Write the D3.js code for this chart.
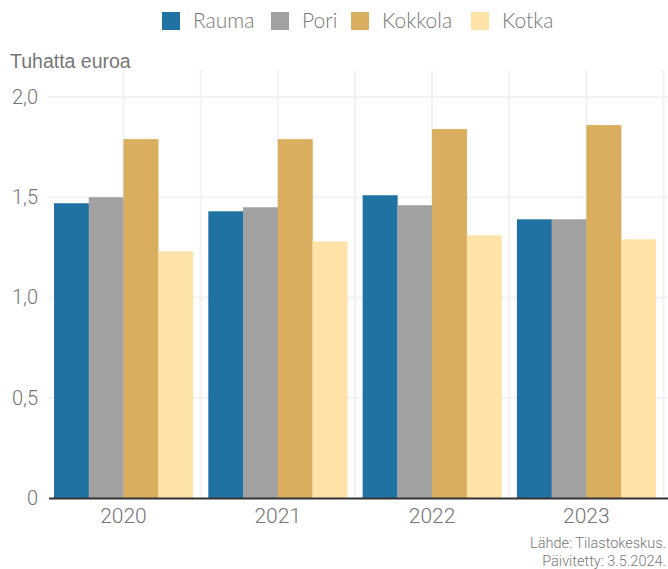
<!DOCTYPE html>
<html>
<head>
<meta charset="utf-8">
<script src="https://cdn.jsdelivr.net/npm/d3@7"></script>
<style>
  body { margin: 0; background: #fff; }
  svg { display: block; }
</style>
</head>
<body>
<svg id="chart"></svg>
<script>
var years = ['2020', '2021', '2022', '2023'];
var cities = ['Rauma', 'Pori', 'Kokkola', 'Kotka'];
var colors = ['#2072a2', '#a1a1a1', '#d9ae5f', '#fee2a8'];

var rauma   = [1.47, 1.43, 1.51, 1.39];
var pori    = [1.50, 1.45, 1.46, 1.39];
var kokkola = [1.79, 1.79, 1.84, 1.86];
var kotka   = [1.23, 1.28, 1.31, 1.29];

var yTicks = [0, 0.5, 1.0, 1.5, 2.0];

var series = [rauma, pori, kokkola, kotka];

var width = 668, height = 569;

var svg = d3.select('#chart').attr('width', width).attr('height', height);

var x = d3.scaleBand().domain(years).range([46.3, 663.5])
    .paddingInner(0.1).paddingOuter(0.05);
var xin = d3.scaleBand().domain(cities).range([0, x.bandwidth()]);
var y = d3.scaleLinear().domain([0, 2.0]).range([498, 97]);

var fmt = function(d) { return d === 0 ? '0' : d3.format('.1f')(d).replace('.', ','); };

// grid
var grid = svg.append('g');
grid.selectAll('.hg')
    .data(yTicks.filter(function(d) { return d > 0; }))
    .enter().append('line')
    .attr('x1', 48).attr('x2', width)
    .attr('y1', function(d) { return y(d); })
    .attr('y2', function(d) { return y(d); })
    .attr('stroke', '#f2f2f2').attr('stroke-width', 2);

var vlines = [];
years.forEach(function(yr, i) {
    vlines.push(x(yr) + x.bandwidth() / 2);
    vlines.push(x(yr) + x.bandwidth() / 2 + x.step() / 2);
});
grid.selectAll('.vg')
    .data(vlines)
    .enter().append('line')
    .attr('x1', function(d) { return d; })
    .attr('x2', function(d) { return d; })
    .attr('y1', 70).attr('y2', 498)
    .attr('stroke', '#f2f2f2').attr('stroke-width', 2);

// bars
var groups = svg.append('g').selectAll('g')
    .data(years)
    .enter().append('g')
    .attr('transform', function(d) { return 'translate(' + x(d) + ',0)'; });

groups.selectAll('rect')
    .data(function(d, i) {
        return cities.map(function(c, j) { return {city: c, value: series[j][i], idx: j}; });
    })
    .enter().append('rect')
    .attr('x', function(d) { return xin(d.city); })
    .attr('width', xin.bandwidth() + 0.3)
    .attr('y', function(d) { return y(d.value); })
    .attr('height', function(d) { return y(0) - y(d.value); })
    .attr('fill', function(d) { return colors[d.idx]; });

// y axis labels
var yAxis = svg.append('g')
    .attr('transform', 'translate(38,0)')
    .call(d3.axisLeft(y).tickValues(yTicks).tickFormat(fmt).tickSize(0).tickPadding(0));
yAxis.select('.domain').remove();
yAxis.selectAll('text')
    .attr('fill', '#757575')
    .style('font-family', 'Roboto')
    .style('font-weight', 300)
    .style('font-size', '20px');

// x axis
var xAxis = svg.append('g')
    .attr('transform', 'translate(0,498)')
    .call(d3.axisBottom(x).tickSize(0).tickPadding(10));
xAxis.select('.domain').remove();
xAxis.selectAll('text')
    .attr('fill', '#757575')
    .style('font-family', 'Roboto')
    .style('font-weight', 300)
    .style('font-size', '21px');

svg.append('line')
    .attr('x1', 49).attr('x2', width)
    .attr('y1', 498.5).attr('y2', 498.5)
    .attr('stroke', '#333').attr('stroke-width', 2);

// axis title
svg.append('text')
    .attr('x', 10).attr('y', 68)
    .attr('fill', '#777')
    .style('font-family', 'Liberation Sans, Arial')
    .style('font-size', '19.5px')
    .text('Tuhatta euroa');

// legend
var legendX = [162, 271, 351, 471];
var legend = svg.append('g').selectAll('g')
    .data(cities)
    .enter().append('g')
    .attr('transform', function(d, i) { return 'translate(' + legendX[i] + ',12)'; });
legend.append('rect')
    .attr('width', 18).attr('height', 18)
    .attr('fill', function(d, i) { return colors[i]; });
legend.append('text')
    .attr('x', 31).attr('y', 16)
    .attr('fill', '#777')
    .style('font-family', 'Lato')
    .style('font-weight', 300)
    .style('font-size', '21px')
    .text(function(d) { return d; });

// footer
var footer = svg.append('g')
    .attr('fill', '#777')
    .style('font-family', 'Roboto')
    .style('font-weight', 300)
    .style('font-size', '14.5px')
    .attr('text-anchor', 'end');
footer.append('text').attr('x', 666).attr('y', 548).text('Lähde: Tilastokeskus.');
footer.append('text').attr('x', 666).attr('y', 566).text('Päivitetty: 3.5.2024.');
</script>
</body>
</html>
